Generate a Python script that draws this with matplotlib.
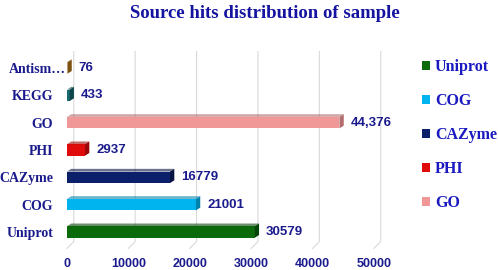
import matplotlib
matplotlib.use("Agg")
import matplotlib.pyplot as plt
from matplotlib.patches import Polygon, Patch
from matplotlib.transforms import ScaledTranslation
import numpy as np

categories = ["Uniprot", "COG", "CAZyme", "PHI", "GO", "KEGG", "Antism…"]
values = [30579, 21001, 16779, 2937, 44376, 433, 76]
value_labels = ["30579", "21001", "16779", "2937", "44,376", "433", "76"]
colors = ["#0b6b0b", "#00b4f0", "#0c1f6b", "#e00a0a", "#f09898", "#176a70", "#b8781a"]
side_colors = ["#06450a", "#0082ad", "#06123f", "#9c0606", "#b46d6d", "#0e4549", "#7d5210"]
legend_names = ["Uniprot", "COG", "CAZyme", "PHI", "GO"]
xticks = [0, 10000, 20000, 30000, 40000, 50000]

navy = "#1a1a8c"
serif = ["Liberation Serif", "DejaVu Serif"]
sans = ["Liberation Sans", "DejaVu Sans"]

fig = plt.figure(figsize=(4.98, 2.70), dpi=100)
ax = fig.add_axes([0.1345, 0.08, 0.6165, 0.729])
ax.set_xlim(0, 50000)
ax.set_ylim(-0.6, 6.6)

h = 0.42
dx = 700
dy = 0.1
y = np.arange(len(categories))

# pseudo-3D gridlines
gdx = 1100
for t in xticks:
    ax.plot([t, t + gdx, t + gdx], [-0.6, -0.35, 6.6],
            color="#d9d9d9", lw=0.8, zorder=0, clip_on=False)

ax.barh(y, values, height=h, color=colors, zorder=3)
for yi, v, sc, c in zip(y, values, side_colors, colors):
    side = Polygon([[v, yi - h / 2], [v + dx, yi - h / 2 + dy],
                    [v + dx, yi + h / 2 + dy], [v, yi + h / 2]],
                   closed=True, facecolor=sc, edgecolor="none", zorder=3)
    top = Polygon([[0, yi + h / 2], [dx, yi + h / 2 + dy],
                   [v + dx, yi + h / 2 + dy], [v, yi + h / 2]],
                  closed=True, facecolor=sc, alpha=0.6, edgecolor="none", zorder=3)
    ax.add_patch(side)
    ax.add_patch(top)

for yi, v, lab in zip(y, values, value_labels):
    ax.annotate(lab, (v + dx, yi), xytext=(5, 0), textcoords="offset points",
                va="center", ha="left", fontsize=9.5, fontweight="bold", color=navy,
                family=sans)

ax.set_yticks(y)
ax.set_yticklabels(categories, fontsize=10, fontweight="bold", color=navy, family=serif)
ax.set_xticks(xticks)
ax.set_xticklabels([str(t) for t in xticks], fontsize=9, fontweight="bold", color=navy,
                   family=sans)
ax.tick_params(length=0, axis="both")
ax.tick_params(axis="x", pad=7)
ax.tick_params(axis="y", pad=10)
for s in ax.spines.values():
    s.set_visible(False)

# the truncated label sits closer to its bar, as in the reference
lbl = ax.get_yticklabels()[-1]
lbl.set_transform(lbl.get_transform() + ScaledTranslation(13 / 100, 0, fig.dpi_scale_trans))

fig.suptitle("Source hits distribution of sample", x=0.532, y=0.98, fontsize=13.5,
             fontweight="bold", color="#1414a0", family=serif)

handles = [Patch(facecolor=colors[categories.index(n)], edgecolor="none") for n in legend_names]
leg = fig.legend(handles, legend_names, loc="upper left", bbox_to_anchor=(0.819, 0.834),
                 frameon=False, prop={"family": serif, "weight": "bold", "size": 11.5},
                 labelspacing=1.12, handlelength=0.5, handleheight=0.5, handletextpad=0.3)
for t in leg.get_texts():
    t.set_color("#1a1ac0")

fig.savefig("out.png", dpi=100)
